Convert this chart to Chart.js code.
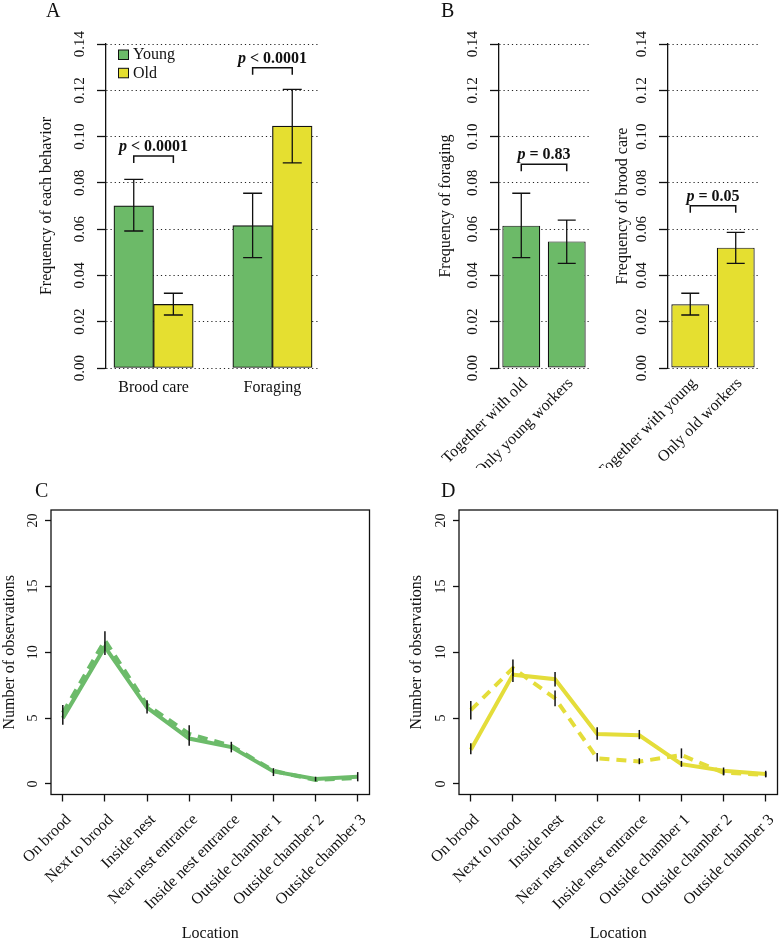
<!DOCTYPE html>
<html>
<head>
<meta charset="utf-8">
<title>Behaviour of young and old workers</title>
<script src="https://cdn.jsdelivr.net/npm/chart.js@4.4.0/dist/chart.umd.min.js"></script>
<style>
  html, body { margin: 0; padding: 0; background: #fff; overflow: hidden; }
  #fig { position: relative; width: 780px; height: 940px; }
  .panel { position: absolute; }
  .tag { position: absolute; font: 20px "Liberation Serif", serif; line-height: 20px; color: #111; }
</style>
</head>
<body>
<div id="fig">
  <div class="panel" style="left:0;top:0;width:390px;height:470px"><canvas id="chartA"></canvas></div>
  <div class="panel" style="left:400px;top:0;width:190px;height:470px"><canvas id="chartB1"></canvas></div>
  <div class="panel" style="left:590px;top:0;width:190px;height:470px"><canvas id="chartB2"></canvas></div>
  <div class="panel" style="left:0;top:470px;width:390px;height:472px"><canvas id="chartC"></canvas></div>
  <div class="panel" style="left:390px;top:470px;width:390px;height:472px"><canvas id="chartD"></canvas></div>
  <div class="tag" style="left:46px;top:0px">A</div>
  <div class="tag" style="left:441px;top:0px">B</div>
  <div class="tag" style="left:35px;top:480px">C</div>
  <div class="tag" style="left:441px;top:480px">D</div>
</div>
<script>
// ---- panel A: frequency of each behaviour, young vs old
const behaviors = ['Brood care', 'Foraging'];
const youngFreq = [0.0701, 0.0615];
const youngLo = [0.0592, 0.0477];
const youngHi = [0.0815, 0.0755];
const oldFreq = [0.0275, 0.1045];
const oldLo = [0.0229, 0.0886];
const oldHi = [0.0323, 0.1204];
const pTextA = ['< 0.0001', '< 0.0001'];
const bracketA = [0.0916, 0.1297];

// ---- panel B: foraging of young, brood care of old
const forageGroups = ['Together with old', 'Only young workers'];
const forageFreq = [0.0615, 0.0547];
const forageLo = [0.0477, 0.0452];
const forageHi = [0.0755, 0.0639];
const broodGroups = ['Together with young', 'Only old workers'];
const broodFreq = [0.0275, 0.0520];
const broodLo = [0.0229, 0.0452];
const broodHi = [0.0323, 0.0586];
const pTextB = ['= 0.83', '= 0.05'];
const bracketB = [0.0880, 0.0701];

const freqTicks = [0, 0.02, 0.04, 0.06, 0.08, 0.10, 0.12, 0.14];

// ---- panels C, D: number of observations per location
const locations = ['On brood', 'Next to brood', 'Inside nest', 'Near nest entrance',
  'Inside nest entrance', 'Outside chamber 1', 'Outside chamber 2', 'Outside chamber 3'];
const obsTicks = [0, 5, 10, 15, 20];

const youngSolid = [5.0, 10.4, 5.8, 3.45, 2.8, 0.95, 0.38, 0.55];
const youngSolidLo = [4.5, 9.8, 5.35, 2.9, 2.4, 0.6, 0.2, 0.2];
const youngSolidHi = [6.0, 11.6, 6.35, 4.45, 3.2, 1.2, 0.55, 0.9];
const youngDashed = [5.4, 10.9, 6.0, 3.8, 2.9, 1.0, 0.3, 0.45];

const oldSolid = [2.6, 8.3, 7.95, 3.8, 3.7, 1.5, 1.0, 0.75];
const oldSolidLo = [2.25, 7.75, 7.4, 3.35, 3.4, 1.3, 0.65, 0.5];
const oldSolidHi = [3.1, 8.9, 8.5, 4.3, 4.1, 1.75, 1.25, 1.0];
const oldDashed = [5.6, 8.8, 6.5, 1.95, 1.7, 2.2, 0.85, 0.7];
const oldDashedLo = [4.9, 8.2, 5.9, 1.7, 1.5, 1.95, 0.7, 0.55];
const oldDashedHi = [6.3, 9.45, 7.1, 2.35, 1.95, 2.7, 1.05, 0.9];

const serif = '"Liberation Serif", "Times New Roman", serif';
const ink = '#111';
const green = '#6cba68';
const yellow = '#e5df30';
const greenLine = '#6cbb6a';
const yellowLine = '#e4dd3a';

Chart.defaults.font.family = serif;
Chart.defaults.font.size = 15;
Chart.defaults.color = ink;
Chart.defaults.animation = false;
Chart.defaults.plugins.legend.display = false;
Chart.defaults.plugins.tooltip.enabled = false;

// black error bars read from each dataset's errLo / errHi arrays
const errorBars = {
  id: 'errorBars',
  afterDatasetsDraw(chart, args, opts) {
    const { ctx } = chart;
    const y = chart.scales.y;
    chart.data.datasets.forEach((ds, di) => {
      if (!ds.errLo) return;
      const meta = chart.getDatasetMeta(di);
      ctx.save();
      ctx.strokeStyle = ink;
      ctx.lineWidth = opts.width;
      meta.data.forEach((el, i) => {
        const top = y.getPixelForValue(ds.errHi[i]);
        const bot = y.getPixelForValue(ds.errLo[i]);
        ctx.beginPath();
        ctx.moveTo(el.x, top);
        ctx.lineTo(el.x, bot);
        if (opts.cap) {
          ctx.moveTo(el.x - opts.cap, top);
          ctx.lineTo(el.x + opts.cap, top);
          ctx.moveTo(el.x - opts.cap, bot);
          ctx.lineTo(el.x + opts.cap, bot);
        }
        ctx.stroke();
      });
      ctx.restore();
    });
  }
};

// p-value brackets between two bars
function bracketPlugin(items) {
  return {
    id: 'brackets',
    afterDatasetsDraw(chart) {
      const { ctx, scales: { x, y } } = chart;
      ctx.save();
      ctx.strokeStyle = ink;
      ctx.fillStyle = ink;
      ctx.lineWidth = 1.5;
      items.forEach(b => {
        const x1 = x.getPixelForValue(b.from);
        const x2 = x.getPixelForValue(b.to);
        const yy = y.getPixelForValue(b.at);
        ctx.beginPath();
        ctx.moveTo(x1, yy + 7);
        ctx.lineTo(x1, yy);
        ctx.lineTo(x2, yy);
        ctx.lineTo(x2, yy + 7);
        ctx.stroke();
        const fp = 'bold italic 16px ' + serif;
        const fr = 'bold 16px ' + serif;
        const rest = ' ' + b.label;
        ctx.font = fp;
        const wp = ctx.measureText('p').width;
        ctx.font = fr;
        const wr = ctx.measureText(rest).width;
        const sx = (x1 + x2) / 2 - (wp + wr) / 2;
        ctx.textAlign = 'left';
        ctx.textBaseline = 'alphabetic';
        ctx.font = fp;
        ctx.fillText('p', sx, yy - 5);
        ctx.font = fr;
        ctx.fillText(rest, sx + wp, yy - 5);
      });
      ctx.restore();
    }
  };
}

// legend inside panel A
const legendA = {
  id: 'legendA',
  afterDraw(chart) {
    const { ctx, chartArea } = chart;
    ctx.save();
    ctx.font = '16px ' + serif;
    ctx.textAlign = 'left';
    ctx.textBaseline = 'middle';
    chart.data.datasets.forEach((ds, i) => {
      const bx = chartArea.left + 12.5;
      const by = chartArea.top + 6 + i * 18.3;
      ctx.fillStyle = ds.backgroundColor;
      ctx.fillRect(bx, by, 10, 9.5);
      ctx.strokeStyle = ink;
      ctx.lineWidth = 1;
      ctx.strokeRect(bx, by, 10, 9.5);
      ctx.fillStyle = ink;
      ctx.fillText(ds.label, bx + 14.5, by + 5);
    });
    ctx.restore();
  }
};

// full frame round the plot region (panels C, D)
const frameBox = {
  id: 'frameBox',
  afterDraw(chart) {
    const { ctx, chartArea: a } = chart;
    ctx.save();
    ctx.strokeStyle = ink;
    ctx.lineWidth = 1.3;
    ctx.strokeRect(a.left, a.top, a.right - a.left, a.bottom - a.top);
    ctx.restore();
  }
};

// keep label overhang from moving the plot area
function noOverhang(s) {
  s.paddingLeft = 0; s.paddingRight = 0; s.paddingTop = 0; s.paddingBottom = 0;
}

function freqScale(title, width, titlePad) {
  return {
    type: 'linear', min: 0, max: 0.14,
    afterBuildTicks: s => { s.ticks = freqTicks.map(v => ({ value: v })); },
    afterFit: s => { s.width = width; noOverhang(s); },
    ticks: { callback: v => v.toFixed(2), minRotation: 90, maxRotation: 90, crossAlign: 'center', padding: 3.5, font: { size: 15 } },
    grid: { color: '#222', lineWidth: 1, tickLength: 9, tickColor: ink, tickWidth: 1.3 },
    border: { display: true, color: ink, width: 1.3, dash: [1.2, 3] },
    title: { display: true, text: title, font: { size: 16 }, padding: { top: titlePad, bottom: 0 } }
  };
}

function groupScale(names, centers, min, max, height, rotation, pad, offset) {
  return {
    type: 'linear', min: min, max: max, offset: false,
    afterBuildTicks: s => { s.ticks = centers.map(v => ({ value: v })); },
    afterFit: s => { s.height = height; noOverhang(s); },
    ticks: { callback: (v, i) => names[i], minRotation: rotation, maxRotation: rotation, autoSkip: false, padding: pad, labelOffset: offset, font: { size: 16 } },
    grid: { display: false, drawTicks: false, offset: false },
    border: { display: false }
  };
}

const barDefaults = { grouped: false, barPercentage: 1, borderColor: ink, borderWidth: 1.2, borderSkipped: false };

// ---------- A
const youngX = behaviors.map((_, i) => i * 3 + 1.5);
const oldX = behaviors.map((_, i) => i * 3 + 2.5);
new Chart(document.getElementById('chartA'), {
  type: 'bar',
  data: {
    datasets: [
      { label: 'Young', data: youngX.map((x, i) => ({ x: x, y: youngFreq[i] })), backgroundColor: green, errLo: youngLo, errHi: youngHi },
      { label: 'Old', data: oldX.map((x, i) => ({ x: x, y: oldFreq[i] })), backgroundColor: yellow, errLo: oldLo, errHi: oldHi }
    ]
  },
  options: {
    responsive: true, maintainAspectRatio: false,
    layout: { padding: { left: 0, right: 70, top: 44, bottom: 62 } },
    datasets: { bar: Object.assign({ categoryPercentage: 1 }, barDefaults) },
    scales: {
      x: groupScale(behaviors, behaviors.map((_, i) => i * 3 + 2), 0.8, 6.2, 40, 0, 10, 0),
      y: freqScale('Frequency of each behavior', 106, 37.4)
    },
    plugins: { errorBars: { cap: 9.5, width: 1.3 } }
  },
  plugins: [errorBars, bracketPlugin(behaviors.map((_, i) => ({ from: youngX[i], to: oldX[i], at: bracketA[i], label: pTextA[i] }))), legendA]
});

// ---------- B
const pairX = [0.7, 1.9];
function pairChart(id, names, vals, lo, hi, color, title, yWidth, titlePad, padRight, pIndex) {
  new Chart(document.getElementById(id), {
    type: 'bar',
    data: {
      datasets: [{ data: pairX.map((x, i) => ({ x: x, y: vals[i] })), backgroundColor: color, errLo: lo, errHi: hi }]
    },
    options: {
      responsive: true, maintainAspectRatio: false,
      layout: { padding: { left: 0, right: padRight, top: 44, bottom: 2 } },
      datasets: { bar: Object.assign({ categoryPercentage: 1 / 1.2 }, barDefaults) },
      scales: {
        x: groupScale(names, pairX, 0.112, 2.488, 100, 45, 6, 4),
        y: freqScale(title, yWidth, titlePad)
      },
      plugins: { errorBars: { cap: 9, width: 1.3 } }
    },
    plugins: [errorBars, bracketPlugin([{ from: pairX[0], to: pairX[1], at: bracketB[pIndex], label: pTextB[pIndex] }])]
  });
}
pairChart('chartB1', forageGroups, forageFreq, forageLo, forageHi, green, 'Frequency of foraging', 99, 36.4, 1, 0);
pairChart('chartB2', broodGroups, broodFreq, broodLo, broodHi, yellow, 'Frequency of brood care', 78, 23.4, 22, 1);

// ---------- C, D
function locationChart(id, solid, solidLo, solidHi, dashed, dashedLo, dashedHi, color, yWidth, titlePad, padRight) {
  const pts = arr => locations.map((_, i) => ({ x: i + 1, y: arr[i] }));
  new Chart(document.getElementById(id), {
    type: 'line',
    data: {
      datasets: [
        { data: pts(solid), borderColor: color, borderWidth: 4, pointRadius: 0, tension: 0, errLo: solidLo, errHi: solidHi },
        { data: pts(dashed), borderColor: color, borderWidth: 4, borderDash: [10, 7], pointRadius: 0, tension: 0, errLo: dashedLo, errHi: dashedHi }
      ]
    },
    options: {
      responsive: true, maintainAspectRatio: false,
      layout: { padding: { left: 0, right: padRight, top: 40, bottom: 0 } },
      scales: {
        x: {
          type: 'linear', min: 0.72, max: 8.28,
          afterBuildTicks: s => { s.ticks = locations.map((_, i) => ({ value: i + 1 })); },
          afterFit: s => { s.height = 147.5; noOverhang(s); },
          ticks: { callback: (v, i) => locations[i], minRotation: 45, maxRotation: 45, autoSkip: false, padding: 9, labelOffset: 6, font: { size: 16 } },
          grid: { drawOnChartArea: false, tickLength: 7, tickColor: ink, tickWidth: 1.3 },
          border: { display: false },
          title: { display: true, text: 'Location', font: { size: 16, lineHeight: 1 }, padding: { top: 0, bottom: 0 } }
        },
        y: {
          type: 'linear', min: -0.8, max: 20.8,
          afterBuildTicks: s => { s.ticks = obsTicks.map(v => ({ value: v })); },
          afterFit: s => { s.width = yWidth; noOverhang(s); },
          ticks: { minRotation: 90, maxRotation: 90, crossAlign: 'center', padding: 4.5, font: { size: 14 } },
          grid: { drawOnChartArea: false, tickLength: 6, tickColor: ink, tickWidth: 1.3 },
          border: { display: false },
          title: { display: true, text: 'Number of observations', font: { size: 16 }, padding: { top: titlePad, bottom: 0 } }
        }
      },
      plugins: { errorBars: { cap: 0, width: 1.5 } }
    },
    plugins: [errorBars, frameBox]
  });
}
locationChart('chartC', youngSolid, youngSolidLo, youngSolidHi, youngDashed, null, null, greenLine, 51, 0, 20.5);
locationChart('chartD', oldSolid, oldSolidLo, oldSolidHi, oldDashed, oldDashedLo, oldDashedHi, yellowLine, 69, 17.4, 2.5);
</script>
</body>
</html>
